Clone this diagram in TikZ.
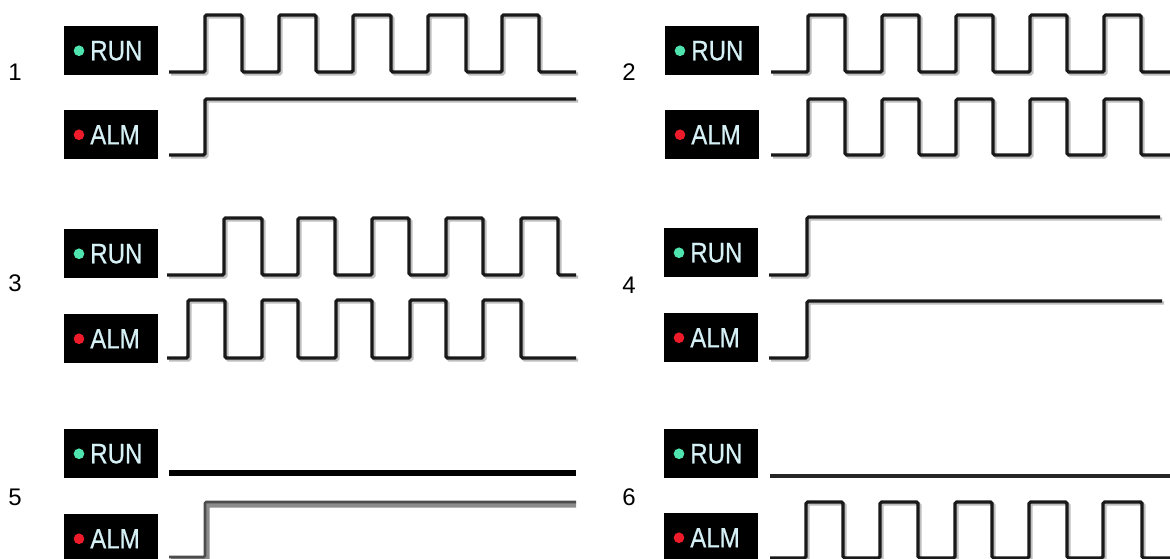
\documentclass[tikz,border=0pt]{standalone}
\usepackage{fontspec}
\setmainfont{Liberation Sans}
\newfontfamily\lampfont[FakeBold=0.6]{Liberation Sans}
\usetikzlibrary{calc}
\definecolor{runled}{HTML}{4FE3AE}
\definecolor{almled}{HTML}{EE1C2A}
\definecolor{lbltxt}{HTML}{D6F1F6}
\tikzset{
  lampbox/.style={fill=black, draw=none, inner sep=0pt, minimum width=70.5pt, minimum height=36.75pt, anchor=north west},
  lamptext/.style={text=lbltxt, font=\lampfont\fontsize{21}{21}\selectfont, inner sep=0pt, anchor=west},
  numlbl/.style={font=\fontsize{18}{18}\selectfont, inner sep=0pt},
  sigline/.style={draw=black!90, line width=2.5pt, rounded corners=1.2pt},
  sigshadow/.style={draw=black!25, line width=2.5pt, rounded corners=1.2pt, shift={(2,2)}},
}
% lamp: name, x left, y top, led colour, text
\newcommand\lamp[5]{%
  \node[lampbox] (#1) at (#2,#3) {};
  \fill[#4] ($(#1.west)+(15,0)$) circle (4pt);
  \node[lamptext] (#1t) at ($(#1.west)+(26,0)$) {\scalebox{0.86}[1]{#5}};
}
\newcommand\sig[2][]{%
  \draw[sigshadow,#1] #2;
  \draw[sigline,#1] #2;
}
\begin{document}
\begin{tikzpicture}[x=0.75pt,y=-0.75pt]
\useasboundingbox (0,0) rectangle (1170,559);

% ---------- panel 1 ----------
\node[numlbl] (n1) at (15,72) {1};
\lamp{run1}{64}{26}{runled}{RUN}
\lamp{alm1}{64}{110}{almled}{ALM}
\sig{(169,72) -| (205,15) -| (242,72) -| (279,15) -| (316,72) -| (353,15) -| (391,72) -| (428,15) -| (466,72) -| (502,15) -| (539,72) -- (576,72)}
\sig[sigshadow/.append style={draw=black!45,line width=3pt}]{(169,155) -| (205,99) -- (576,99)}

% ---------- panel 2 ----------
\node[numlbl] (n2) at (629,72) {2};
\lamp{run2}{665}{26}{runled}{RUN}
\lamp{alm2}{665}{110}{almled}{ALM}
\sig{(771,72) -| (808,15) -| (845,72) -| (882,15) -| (919,72) -| (956,15) -| (993,72) -| (1030,15) -| (1067,72) -| (1104,15) -| (1141,72) -- (1172,72)}
\sig{(771,155) -| (808,99) -| (845,155) -| (882,99) -| (919,155) -| (956,99) -| (993,155) -| (1030,99) -| (1067,155) -| (1104,99) -| (1141,155) -- (1172,155)}

% ---------- panel 3 ----------
\node[numlbl] (n3) at (15,283) {3};
\lamp{run3}{64}{229}{runled}{RUN}
\lamp{alm3}{64}{314}{almled}{ALM}
\sig{(167,275) -| (224,218) -| (262,275) -| (298,218) -| (335,275) -| (372,218) -| (409,275) -| (446,218) -| (483,275) -| (521,218) -| (558,275) -- (576,275)}
\sig{(167,358) -| (188,300) -| (225,358) -| (262,300) -| (298,358) -| (336,300) -| (372,358) -| (410,300) -| (446,358) -| (483,300) -| (521,358) -- (576,358)}

% ---------- panel 4 ----------
\node[numlbl] (n4) at (629,285) {4};
\lamp{run4}{664}{228}{runled}{RUN}
\lamp{alm4}{664}{313}{almled}{ALM}
\sig[sigshadow/.append style={draw=black!20,shift={(0.8,0.8)}}, sigline/.append style={draw=black!80}]{(769,275) -| (807,217) -- (1160,217)}
\sig[sigshadow/.append style={draw=black!20,shift={(0.8,0.8)}}, sigline/.append style={draw=black!80}]{(769,358) -| (807,301) -- (1162,301)}

% ---------- panel 5 ----------
\node[numlbl] (n5) at (15,497) {5};
\lamp{run5}{64}{429}{runled}{RUN}
\lamp{alm5}{64}{514}{almled}{ALM}
\draw[black, line width=4pt] (169,473) -- (576,473);
\draw[draw=black!45, line width=3.8pt, rounded corners=1pt] (171,559) -- (207,559) -- (207,505) -- (576,505);
\draw[draw=black!70, line width=2pt, rounded corners=1pt] (169,557) -| (205,502) -- (576,502);

% ---------- panel 6 ----------
\node[numlbl] (n6) at (629,497) {6};
\lamp{run6}{664}{429}{runled}{RUN}
\lamp{alm6}{664}{513}{almled}{ALM}
\draw[black!85, line width=2.4pt] (770,476) -- (1172,476);
\sig[sigshadow/.append style={draw=black!20,shift={(0.8,0.8)}}, sigline/.append style={draw=black!80}]{(770,558) -| (806,502) -| (843,558) -| (880,502) -| (918,558) -| (955,502) -| (992,558) -| (1029,502) -| (1067,558) -| (1103,502) -| (1142,558) -- (1172,558)}
\end{tikzpicture}
\end{document}
